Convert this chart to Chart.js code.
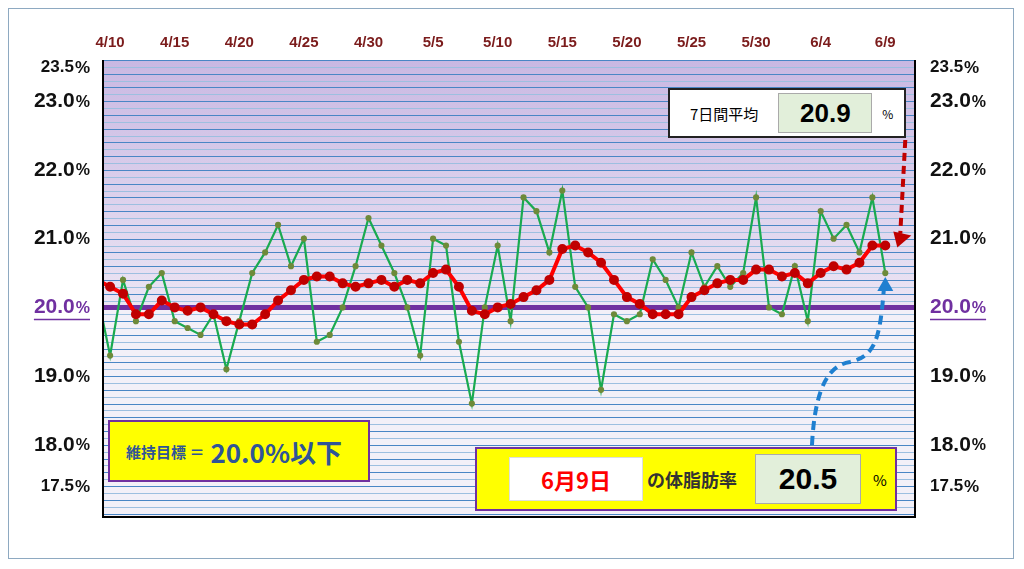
<!DOCTYPE html>
<html><head><meta charset="utf-8">
<script src="https://cdn.jsdelivr.net/npm/chart.js@4/dist/chart.umd.min.js"></script>
<style>
body{margin:0;background:#fff;font-family:"Noto Sans CJK JP","Noto Sans",sans-serif;}
#wrap{position:relative;width:1024px;height:569px;}
#frame{position:absolute;left:8px;top:8px;width:1006px;height:551px;border:1px solid #8ea9c1;box-sizing:border-box;}
.box{position:absolute;box-sizing:border-box;display:flex;align-items:center;}
</style></head><body>
<div id="wrap"><div id="frame"></div><canvas id="c" width="1024" height="569"></canvas>
<div class="box" style="left:668px;top:88px;width:238px;height:50px;background:#fff;border:2px solid #222;">
 <span style="margin-left:20px;font-size:15px;">7日間平均</span>
 <span id="avgBox" style="margin-left:20px;width:92px;height:38px;background:#e2efda;border:1px solid #aaa;display:flex;align-items:center;justify-content:center;font:bold 26px 'Liberation Sans',sans-serif;"></span>
 <span style="margin-left:10px;font-size:12px;">%</span>
</div>
<div class="box" style="left:108px;top:420px;width:262px;height:62px;background:#ffff00;border:2px solid #7030a0;">
 <span style="margin-left:16px;font-size:15px;font-weight:bold;color:#2f5597;">維持目標 ＝ </span>
 <span style="margin-left:6px;font-size:26px;font-weight:bold;color:#2f5597;">20.0%以下</span>
</div>
<div class="box" style="left:475px;top:447px;width:422px;height:64px;background:#ffff00;border:2px solid #7030a0;">
 <span id="dateBox" style="margin-left:32px;width:132px;height:42px;background:#fff;border:1px solid #ddd;display:flex;align-items:center;justify-content:center;font-size:22px;font-weight:bold;color:#ff0000;"></span>
 <span style="margin-left:4px;font-size:18px;font-weight:bold;color:#333;">の体脂肪率</span>
 <span id="valBox" style="margin-left:18px;width:104px;height:48px;background:#e2efda;border:1px solid #aaa;display:flex;align-items:center;justify-content:center;font:bold 30px 'Liberation Sans',sans-serif;"></span>
 <span style="margin-left:12px;font-size:15px;">%</span>
</div>
</div>
<script>
const dayLabels=['4/10','4/15','4/20','4/25','4/30','5/5','5/10','5/15','5/20','5/25','5/30','6/4','6/9'];
const dayTicks=[0,5,10,15,20,25,30,35,40,45,50,55,60];
// daily values from 4/9 (index -1) to 6/9 (index 60)
const daily=[20.2,19.3,20.4,19.8,20.3,20.5,19.8,19.7,19.6,19.9,19.1,19.8,20.5,20.8,21.2,20.6,21.0,19.5,19.6,20.0,20.6,21.3,
20.9,20.5,20.0,19.3,21.0,20.9,19.5,18.6,20.0,20.9,19.8,21.6,21.4,20.8,21.7,20.3,20.0,18.8,19.9,19.8,19.9,
20.7,20.4,20.0,20.8,20.3,20.6,20.3,20.5,21.6,20.0,19.9,20.6,19.8,21.4,21.0,21.2,20.8,21.6,20.5];
const avg7=[20.4,20.3,20.2,19.9,19.9,20.1,20.0,19.95,20.0,19.9,19.8,19.75,19.75,19.9,20.1,20.25,20.4,20.45,20.45,20.35,20.3,20.35,20.4,
20.3,20.4,20.35,20.5,20.55,20.3,19.95,19.9,20.0,20.05,20.15,20.25,20.4,20.85,20.9,20.8,20.65,20.4,20.15,20.05,
19.9,19.9,19.9,20.15,20.25,20.35,20.4,20.4,20.55,20.55,20.45,20.5,20.35,20.5,20.6,20.55,20.65,20.9,20.9];
const yLabels=[17.5,18.0,19.0,20.0,21.0,22.0,23.0,23.5];
const target=20.0;
const lastDate='6月9日';
document.getElementById('avgBox').textContent=avg7[avg7.length-1].toFixed(1);
document.getElementById('valBox').textContent=daily[daily.length-1].toFixed(1);
document.getElementById('dateBox').textContent=lastDate;
const pts=a=>a.map((v,i)=>({x:i-1,y:v}));

const deco={id:'deco',
 beforeDatasetsDraw(ch){const {ctx,chartArea:a,scales:{x,y}}=ch;ctx.save();
  const yt=y.getPixelForValue(target);
  let g=ctx.createLinearGradient(0,a.top,0,yt);g.addColorStop(0,'#c9b8e2');g.addColorStop(1,'#ece5f4');
  ctx.fillStyle=g;ctx.fillRect(a.left,a.top,a.right-a.left,yt-a.top);
  ctx.fillStyle='#f3f0f8';ctx.fillRect(a.left,yt,a.right-a.left,a.bottom-yt);
  for(let k=170;k<=236;k++){const py=Math.round(y.getPixelForValue(k/10))+0.5;
   ctx.strokeStyle=k%2?'#9dbfe0':'#4a86c5';ctx.lineWidth=1;ctx.beginPath();ctx.moveTo(a.left,py);ctx.lineTo(a.right,py);ctx.stroke();}
  ctx.strokeStyle='#7030a0';ctx.lineWidth=5;ctx.beginPath();ctx.moveTo(a.left,yt);ctx.lineTo(a.right,yt);ctx.stroke();
  ctx.restore();},
 afterDraw(ch){const {ctx,chartArea:a,scales:{x,y}}=ch;ctx.save();
  ctx.strokeStyle='#000';ctx.lineWidth=2;ctx.beginPath();ctx.moveTo(a.left,a.top);ctx.lineTo(a.left,a.bottom);ctx.lineTo(a.right,a.bottom);ctx.lineTo(a.right,a.top);ctx.stroke();
  ctx.fillStyle='#7b1c1c';ctx.font='bold 15px "Liberation Sans",sans-serif';ctx.textAlign='center';ctx.textBaseline='middle';
  dayTicks.forEach((d,i)=>ctx.fillText(dayLabels[i],x.getPixelForValue(d),43));
  yLabels.forEach(v=>{const py=y.getPixelForValue(v)+(v===17.5?7:0);const small=(v===17.5||v===23.5);
   const num=v.toFixed(1);const isT=v===target;ctx.fillStyle=isT?'#7030a0':'#111';
   const f1=small?'bold 17px "Liberation Sans",sans-serif':'bold 21px "Liberation Sans",sans-serif';
   const f2=small?'bold 17px "Liberation Sans",sans-serif':'bold 16px "Liberation Sans",sans-serif';
   ctx.textAlign='left';ctx.font=f1;const w1=ctx.measureText(num).width;ctx.font=f2;const w2=ctx.measureText('%').width;
   [90-w1-w2-1,930].forEach(lx=>{
    ctx.font=f1;ctx.fillText(num,lx,py);
    ctx.font=f2;ctx.fillText('%',lx+w1+1,py+1);
    if(isT){ctx.strokeStyle='#7030a0';ctx.lineWidth=1.5;ctx.beginPath();ctx.moveTo(lx,py+12);ctx.lineTo(lx+w1+w2+1,py+12);ctx.stroke();}
   });});
  const ax=x.getPixelForValue(60),ay=y.getPixelForValue(avg7[avg7.length-1]);
  ctx.setLineDash([8,5]);ctx.strokeStyle='#c00000';ctx.lineWidth=4;ctx.beginPath();ctx.moveTo(ax+20,140);ctx.lineTo(ax+15,ay-12);ctx.stroke();
  ctx.setLineDash([]);ctx.fillStyle='#c00000';ctx.beginPath();ctx.moveTo(ax+8,ay-14);ctx.lineTo(ax+26,ay-10);ctx.lineTo(ax+12,ay+2);ctx.fill();
  const bx=x.getPixelForValue(60),by=y.getPixelForValue(daily[daily.length-1]);
  ctx.setLineDash([9,6]);ctx.strokeStyle='#1f7fd0';ctx.lineWidth=4;ctx.beginPath();ctx.moveTo(812,445);
  ctx.bezierCurveTo(815,385,830,365,850,362);ctx.bezierCurveTo(875,356,880,340,884,by+14);ctx.stroke();
  ctx.setLineDash([]);ctx.fillStyle='#1f7fd0';ctx.beginPath();ctx.moveTo(bx-8,by+18);ctx.lineTo(bx+8,by+18);ctx.lineTo(bx,by+4);ctx.fill();
  ctx.restore();}};

new Chart(document.getElementById('c'),{type:'line',
 data:{datasets:[
  {data:pts(avg7),borderColor:'#ff0000',borderWidth:4,pointRadius:3,pointBackgroundColor:'#c00000',pointBorderColor:'#c00000',tension:0,order:0},
  {data:pts(daily),borderColor:'#1aaa50',borderWidth:2.2,pointRadius:2,pointBackgroundColor:'#6e8a3a',pointBorderColor:'#6e8a3a',tension:0,order:1}]},
 options:{responsive:false,animation:false,devicePixelRatio:1,
  layout:{padding:{left:103,right:109,top:60,bottom:52}},
  plugins:{legend:{display:false},tooltip:{enabled:false}},
  scales:{x:{type:'linear',min:-0.55,max:62.3,display:false},y:{min:16.95,max:23.6,display:false}}},
 plugins:[deco]});
</script></body></html>
